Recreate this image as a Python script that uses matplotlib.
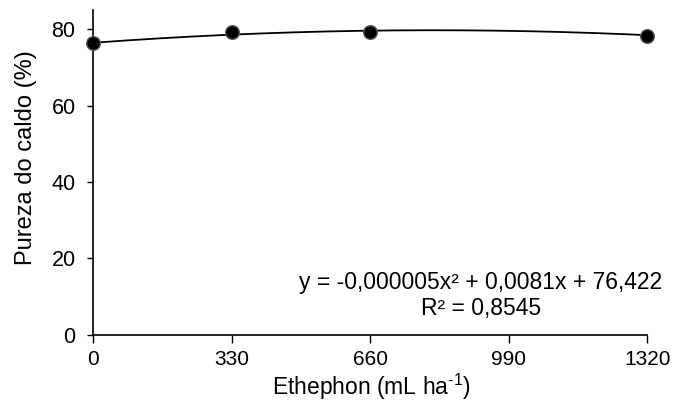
import numpy as np
import matplotlib
matplotlib.use("Agg")
import matplotlib.pyplot as plt

plt.rcParams['font.family'] = ['Liberation Sans', 'DejaVu Sans']
plt.rcParams['mathtext.fontset'] = 'custom'
plt.rcParams['mathtext.rm'] = 'Liberation Sans'
plt.rcParams['mathtext.it'] = 'Liberation Sans:italic'
plt.rcParams['mathtext.bf'] = 'Liberation Sans:bold'
plt.rcParams['axes.unicode_minus'] = False

# Data
doses = [0, 330, 660, 1320]
pureza = [76.3, 79.3, 79.2, 78.2]
coef_a, coef_b, coef_c = -0.000005, 0.0081, 76.422
xticks = [0, 330, 660, 990, 1320]
yticks = [0, 20, 40, 60, 80]
eq_line1 = "y = -0,000005x² + 0,0081x + 76,422"
eq_line2 = "R² = 0,8545"
xlabel = 'Ethephon (mL ha$^{\\mathrm{\u2010}1}$)'
ylabel = 'Pureza do caldo (%)'

W, H = 675, 401
fig = plt.figure(figsize=(W / 100, H / 100), dpi=100)
ax = fig.add_axes([93.3 / W, 1 - 334.7 / H, (647.3 - 93.3) / W, (334.7 - 10) / H])

xf = np.linspace(min(doses), max(doses), 200)
yf = coef_a * xf**2 + coef_b * xf + coef_c
ax.plot(xf, yf, color='black', lw=1.3, zorder=2)
ax.plot(doses, pureza, 'o', ms=9.8, mfc='black', mec='#555555', mew=1.0,
        zorder=3, clip_on=False)

ax.set_xlim(0, 1320)
ax.set_ylim(0, 85)
ax.set_xticks(xticks)
ax.set_yticks(yticks)
ax.tick_params(axis='both', labelsize=15.5, direction='out', width=1.0, color='black')
ax.tick_params(axis='x', labelsize=15, length=5.8, pad=5)
ax.tick_params(axis='y', length=4.3, pad=8.5)
for s in ['top', 'right']:
    ax.spines[s].set_visible(False)
for s in ['left', 'bottom']:
    ax.spines[s].set_linewidth(1.2)

fig.text(371 / W, 1 - 394.5 / H, xlabel, ha='center', va='baseline', fontsize=16.5)
fig.text(26 / W, 1 - 157.5 / H, ylabel, ha='center', va='center',
         rotation=90, fontsize=17)

fig.text(481 / W, 1 - 282 / H, eq_line1, ha='center', va='center', fontsize=16.5)
fig.text(481 / W, 1 - 308 / H, eq_line2, ha='center', va='center', fontsize=16.5)

fig.savefig('out.png', dpi=100)
